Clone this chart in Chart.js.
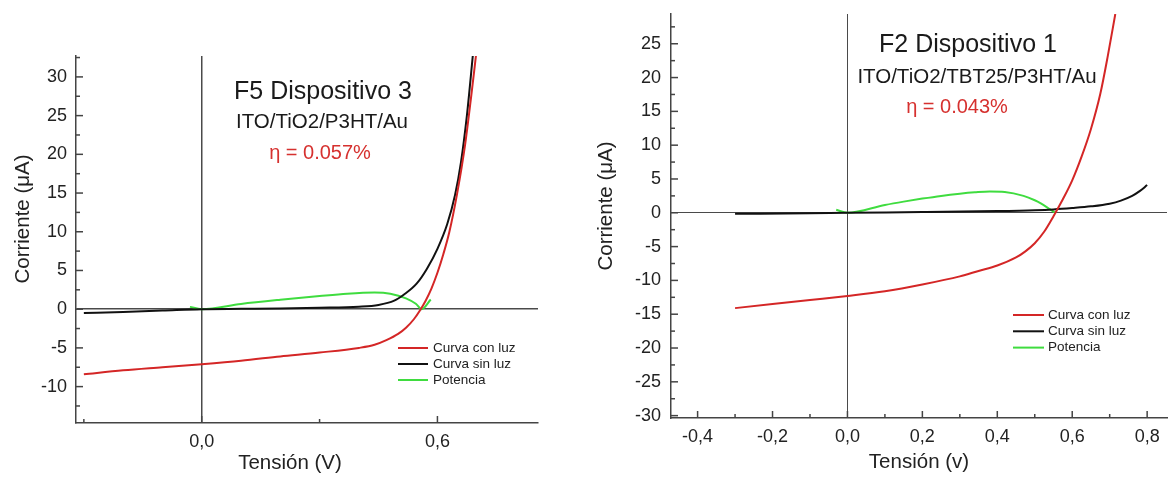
<!DOCTYPE html>
<html>
<head>
<meta charset="utf-8">
<title>Curvas I-V</title>
<script src="https://cdn.jsdelivr.net/npm/chart.js@4.4.1/dist/chart.umd.min.js"></script>
<style>
  html, body { margin: 0; padding: 0; background: #fff; overflow: hidden; }
  #izq { position: absolute; left: 0; top: 0; }
  #der { position: absolute; left: 585px; top: 0; }
</style>
</head>
<body>
<canvas id="izq" width="585" height="483"></canvas>
<canvas id="der" width="584" height="483"></canvas>
<script>
// F5 Dispositivo 3  -  tension (V) / corriente (uA)
const f5ConLuzV = [-0.30, -0.20, -0.10, 0.00, 0.10, 0.20, 0.30, 0.40, 0.44, 0.47, 0.50, 0.52, 0.54, 0.555, 0.57, 0.585, 0.60, 0.615, 0.63, 0.65, 0.67, 0.685, 0.698];
const f5ConLuzI = [-8.4, -7.9, -7.5, -7.1, -6.65, -6.1, -5.6, -5.0, -4.6, -4.0, -3.2, -2.4, -1.3, -0.2, 1.1, 2.7, 4.7, 7.1, 9.9, 14.9, 21.1, 27.1, 32.7];
const f5SinLuzV = [-0.30, -0.20, -0.10, 0.00, 0.10, 0.20, 0.30, 0.40, 0.45, 0.49, 0.515, 0.547, 0.573, 0.60, 0.625, 0.645, 0.66, 0.675, 0.69];
const f5SinLuzI = [-0.5, -0.35, -0.18, 0.0, 0.05, 0.1, 0.18, 0.32, 0.55, 1.1, 1.9, 3.3, 5.2, 7.8, 11.0, 14.8, 19.0, 25.0, 32.7];
const f5PotenciaV = [-0.03, 0.00, 0.10, 0.20, 0.30, 0.37, 0.44, 0.48, 0.52, 0.545, 0.56, 0.583];
const f5PotenciaI = [0.3, 0.0, 0.68, 1.22, 1.7, 2.0, 2.15, 2.0, 1.4, 0.7, 0.0, 1.25];
const f5TicksX = [0, 0.6];
const f5TicksY = [-10, -5, 0, 5, 10, 15, 20, 25, 30];

// F2 Dispositivo 1
const f2ConLuzV = [-0.30, -0.20, -0.10, 0.00, 0.10, 0.20, 0.30, 0.35, 0.40, 0.45, 0.475, 0.50, 0.525, 0.55, 0.575, 0.60, 0.625, 0.65, 0.675, 0.695, 0.715];
const f2ConLuzI = [-14.1, -13.5, -12.9, -12.3, -11.6, -10.6, -9.4, -8.6, -7.8, -6.6, -5.7, -4.5, -2.8, -0.5, 2.0, 4.8, 8.3, 12.4, 17.6, 23.2, 29.4];
const f2SinLuzV = [-0.30, -0.10, 0.00, 0.20, 0.40, 0.50, 0.55, 0.60, 0.65, 0.70, 0.73, 0.76, 0.78, 0.80];
const f2SinLuzI = [-0.15, -0.08, 0.0, 0.1, 0.25, 0.38, 0.5, 0.7, 0.95, 1.35, 1.8, 2.5, 3.2, 4.1];
const f2PotenciaV = [-0.03, 0.00, 0.10, 0.15, 0.20, 0.25, 0.30, 0.34, 0.38, 0.42, 0.47, 0.50, 0.515, 0.54, 0.555];
const f2PotenciaI = [0.44, 0.0, 1.15, 1.65, 2.1, 2.5, 2.82, 3.02, 3.15, 3.08, 2.5, 1.85, 1.43, 0.55, 0.0];
const f2TicksX = [-0.4, -0.2, 0, 0.2, 0.4, 0.6, 0.8];
const f2TicksY = [-30, -25, -20, -15, -10, -5, 0, 5, 10, 15, 20, 25];

const rojo = '#d42626';
const negro = '#111111';
const verde = '#3fdc3f';
const fuente = "'Liberation Sans', Arial, sans-serif";
Chart.defaults.font.family = fuente;

const puntos = (vs, is) => vs.map((v, i) => ({ x: v, y: is[i] }));
const coma = v => v.toFixed(1).replace('.', ',');
const esCero = v => Math.abs(v) < 1e-9;

// marcas cortas hacia dentro del area
function marcas(c, escala, paso, horizontal, a, largoMayor) {
  const ini = Math.ceil(escala.min / paso - 1e-9);
  const fin = Math.floor(escala.max / paso + 1e-9);
  for (let k = ini; k <= fin; k++) {
    const v = k * paso;
    const mayor = escala.ticks.some(t => Math.abs(t.value - v) < 1e-6);
    const largo = mayor ? largoMayor : 4;
    const p = escala.getPixelForValue(v);
    c.beginPath();
    if (horizontal) { c.moveTo(p, a.bottom); c.lineTo(p, a.bottom - largo); }
    else { c.moveTo(a.left, p); c.lineTo(a.left + largo, p); }
    c.stroke();
  }
}

const decoracion = {
  id: 'decoracion',
  beforeDraw(chart) {
    const c = chart.ctx;
    c.save();
    c.fillStyle = '#fff';
    c.fillRect(0, 0, chart.width, chart.height);
    c.restore();
  },
  afterDraw(chart, args, op) {
    const c = chart.ctx;
    const a = chart.chartArea;
    c.save();
    c.strokeStyle = '#444';
    c.lineWidth = 1.5;
    marcas(c, chart.scales.x, op.menorX, true, a, 7);
    marcas(c, chart.scales.y, op.menorY, false, a, 7);

    // titulos de ejes
    c.fillStyle = '#222';
    c.textAlign = 'center';
    c.textBaseline = 'middle';
    c.font = '20.5px ' + fuente;
    c.fillText(op.tituloX.t, op.tituloX.x, op.tituloX.y);
    c.save();
    c.translate(op.tituloY.x, op.tituloY.y);
    c.rotate(-Math.PI / 2);
    c.fillText(op.tituloY.t, 0, 0);
    c.restore();

    // textos del dispositivo
    op.textos.forEach(t => {
      c.font = t.s + 'px ' + fuente;
      c.fillStyle = t.color || '#1a1a1a';
      c.fillText(t.t, t.x, t.y);
    });

    // leyenda
    const L = op.leyenda;
    c.font = '13.5px ' + fuente;
    c.textAlign = 'left';
    chart.data.datasets.forEach((ds, i) => {
      const y = L.y + i * L.dy;
      c.strokeStyle = ds.borderColor;
      c.lineWidth = 2;
      c.beginPath();
      c.moveTo(L.x1, y);
      c.lineTo(L.x2, y);
      c.stroke();
      c.fillStyle = '#222';
      c.fillText(ds.label, L.xt, y);
    });
    c.restore();
  }
};

function crearGrafico(id, cfg) {
  return new Chart(document.getElementById(id), {
    type: 'line',
    data: {
      datasets: [
        { label: 'Curva con luz', data: puntos(cfg.conLuz[0], cfg.conLuz[1]), borderColor: rojo },
        { label: 'Curva sin luz', data: puntos(cfg.sinLuz[0], cfg.sinLuz[1]), borderColor: negro },
        { label: 'Potencia', data: puntos(cfg.potencia[0], cfg.potencia[1]), borderColor: verde }
      ]
    },
    options: {
      responsive: false,
      animation: false,
      datasets: { line: { borderWidth: 2, pointRadius: 0, cubicInterpolationMode: 'monotone' } },
      layout: { padding: cfg.padding },
      plugins: {
        legend: { display: false },
        tooltip: { enabled: false },
        decoracion: cfg.deco
      },
      scales: {
        x: {
          type: 'linear',
          min: cfg.rangoX[0],
          max: cfg.rangoX[1],
          afterBuildTicks: s => { s.ticks = cfg.ticksX.map(v => ({ value: v })); },
          afterFit: s => { s.height = cfg.altoX; s.paddingLeft = 0; s.paddingRight = 0; },
          ticks: { callback: v => coma(v), font: { size: 18 }, color: '#222', padding: 8, maxRotation: 0, autoSkip: false },
          grid: { drawTicks: false, lineWidth: cfg.ceroAncho, color: c => esCero(c.tick.value) ? '#4a4a4a' : 'rgba(0,0,0,0)' },
          border: { color: '#444', width: 1.5 }
        },
        y: {
          min: cfg.rangoY[0],
          max: cfg.rangoY[1],
          afterBuildTicks: s => { s.ticks = cfg.ticksY.map(v => ({ value: v })); },
          afterFit: s => { s.width = cfg.anchoY; s.paddingTop = 0; s.paddingBottom = 0; },
          ticks: { font: { size: 18 }, color: '#222', padding: cfg.padY },
          grid: { drawTicks: false, lineWidth: cfg.ceroAncho, color: c => esCero(c.tick.value) ? '#4a4a4a' : 'rgba(0,0,0,0)' },
          border: { color: '#444', width: 1.5 }
        }
      }
    },
    plugins: [decoracion]
  });
}

crearGrafico('izq', {
  conLuz: [f5ConLuzV, f5ConLuzI],
  sinLuz: [f5SinLuzV, f5SinLuzI],
  potencia: [f5PotenciaV, f5PotenciaI],
  rangoX: [-0.32, 0.856],
  rangoY: [-14.7, 32.7],
  ticksX: f5TicksX,
  ticksY: f5TicksY,
  padding: { left: 0, top: 56, right: 47, bottom: 0 },
  altoX: 60,
  anchoY: 76,
  padY: 9,
  ceroAncho: 1.5,
  deco: {
    menorX: 0.3,
    menorY: 2.5,
    tituloX: { t: 'Tensión (V)', x: 290, y: 463 },
    tituloY: { t: 'Corriente (μA)', x: 23, y: 219 },
    textos: [
      { t: 'F5 Dispositivo 3', x: 323, y: 92, s: 25 },
      { t: 'ITO/TiO2/P3HT/Au', x: 322, y: 122, s: 20.5 },
      { t: 'η = 0.057%', x: 320, y: 153, s: 20, color: '#d6312f' }
    ],
    leyenda: { x1: 398, x2: 428, xt: 433, y: 348, dy: 16 }
  }
});

crearGrafico('der', {
  conLuz: [f2ConLuzV, f2ConLuzI],
  sinLuz: [f2SinLuzV, f2SinLuzI],
  potencia: [f2PotenciaV, f2PotenciaI],
  rangoX: [-0.471, 0.853],
  rangoY: [-30.35, 29.4],
  ticksX: f2TicksX,
  ticksY: f2TicksY,
  padding: { left: 0, top: 14, right: 2, bottom: 0 },
  altoX: 65,
  anchoY: 86,
  padY: 10,
  ceroAncho: 1,
  deco: {
    menorX: 0.1,
    menorY: 2.5,
    tituloX: { t: 'Tensión (v)', x: 334, y: 462 },
    tituloY: { t: 'Corriente (μA)', x: 21, y: 206 },
    textos: [
      { t: 'F2 Dispositivo 1', x: 383, y: 45, s: 25 },
      { t: 'ITO/TiO2/TBT25/P3HT/Au', x: 392, y: 77, s: 20.5 },
      { t: 'η = 0.043%', x: 372, y: 107, s: 20, color: '#d6312f' }
    ],
    leyenda: { x1: 428, x2: 459, xt: 463, y: 315, dy: 16.3 }
  }
});
</script>
</body>
</html>
